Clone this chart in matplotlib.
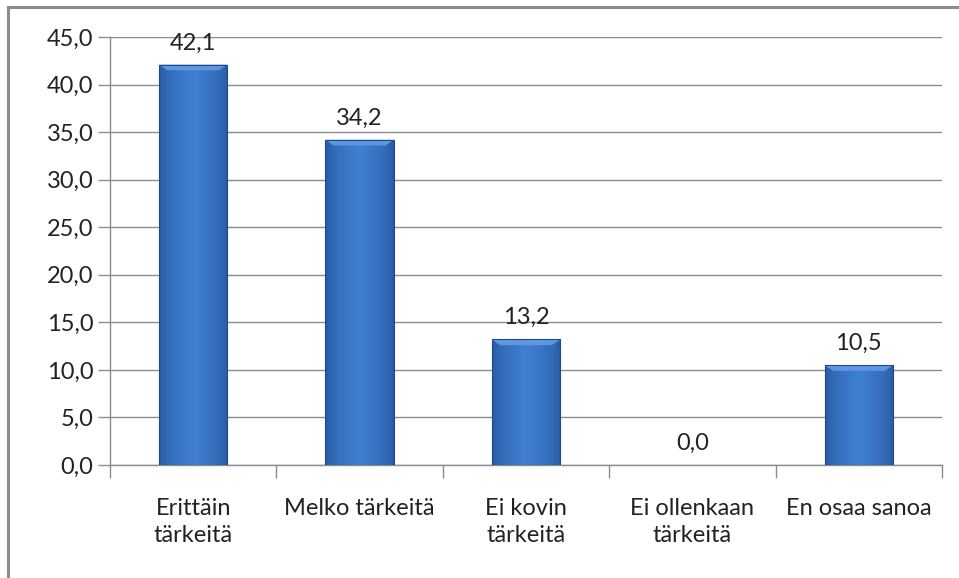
import numpy as np
import matplotlib
matplotlib.use('Agg')
from matplotlib import pyplot as plt
from matplotlib.patches import Polygon, Rectangle

categories = ['Erittäin\ntärkeitä', 'Melko tärkeitä', 'Ei kovin\ntärkeitä',
              'Ei ollenkaan\ntärkeitä', 'En osaa sanoa']
values = [42.1, 34.2, 13.2, 0.0, 10.5]
yticks = np.arange(0, 50, 5)

plt.rcParams['font.family'] = ['Lato', 'DejaVu Sans']
FS = 17

fig = plt.figure(figsize=(9.59, 5.78), dpi=100)
ax = fig.add_axes([0.1147, 0.1955, 0.8676, 0.7405])

# frame around the chart area (left and top visible like in the screenshot)
fig.add_artist(plt.Line2D([0.0085, 0.0085], [0, 0.988], color='#8c8c8c', lw=2.2))
fig.add_artist(plt.Line2D([0.0085, 1.0], [0.988, 0.988], color='#8c8c8c', lw=2.2))

x = np.arange(len(values))
bars = ax.bar(x, values, width=0.41, color='#3b74c4', zorder=3)

# horizontal gradient dark-light-dark on each bar
grad = np.concatenate([np.linspace(0, 1, 50), np.linspace(1, 0, 50)])
grad = np.power(grad, 0.5)[None, :]
cmap = matplotlib.colors.LinearSegmentedColormap.from_list('b', ['#25559b', '#3f7fd2'])
for b in bars:
    if b.get_height() <= 0:
        continue
    x0, w, h = b.get_x(), b.get_width(), b.get_height()
    im = ax.imshow(grad, cmap=cmap, aspect='auto', extent=[x0, x0 + w, 0, h],
                   zorder=4)
    im.set_clip_path(b)
    # light bevel on top
    d = 0.6
    dx = w * 0.12
    ax.add_patch(Polygon([[x0, h], [x0 + w, h], [x0 + w - dx, h - d], [x0 + dx, h - d]],
                         closed=True, color='#5e97e0', zorder=5, lw=0))
    ax.add_patch(Rectangle((x0, 0), w, h, fill=False, ec='#1f4a88', lw=0.8, zorder=6))

for xi, v in zip(x, values):
    ax.annotate(f'{v:.1f}'.replace('.', ','), (xi, v), xytext=(0, 8),
                textcoords='offset points', ha='center', va='bottom',
                fontsize=FS, color='#222222')

ax.set_xlim(-0.5, len(values) - 0.5)
ax.set_ylim(0, 45)
ax.set_yticks(yticks)
ax.set_yticklabels([f'{t:.1f}'.replace('.', ',') for t in yticks], fontsize=FS,
                   color='#222222')
ax.yaxis.grid(True, color='#8c8c8c', lw=1, zorder=0)
ax.tick_params(axis='y', length=9, color='#8c8c8c', width=1, pad=3)

ax.set_xticks(x)
ax.set_xticklabels(categories, fontsize=FS, color='#222222', linespacing=1.35)
ax.set_xticks(np.arange(-0.5, len(values)), minor=True)
ax.tick_params(axis='x', which='major', length=0, pad=24)
ax.tick_params(axis='x', which='minor', length=9, color='#8c8c8c', width=1)

for s in ['top', 'right']:
    ax.spines[s].set_visible(False)
for s in ['left', 'bottom']:
    ax.spines[s].set_color('#8c8c8c')
    ax.spines[s].set_linewidth(1)

fig.savefig('out.png', dpi=100)
